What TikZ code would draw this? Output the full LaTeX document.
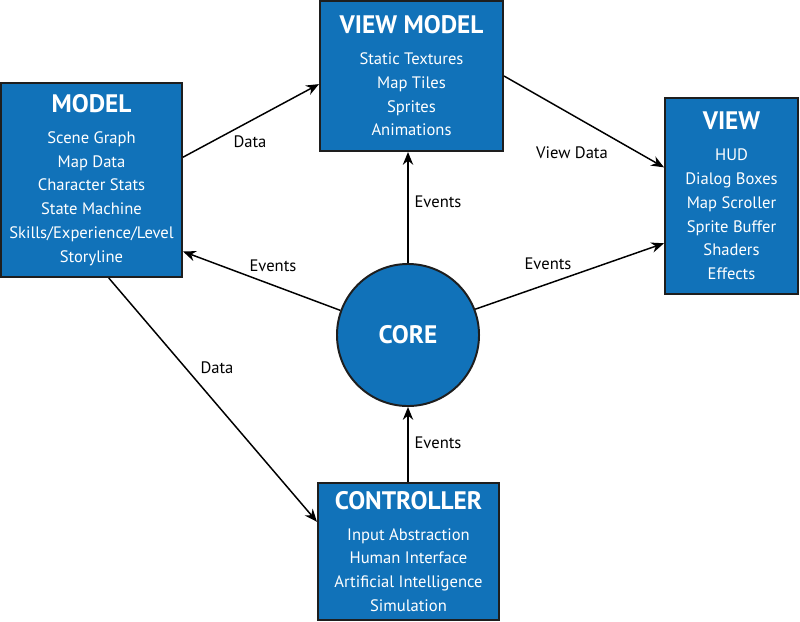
\documentclass[tikz,border=0pt]{standalone}
\usepackage{fontspec}
\setmainfont{PT Sans}
\usetikzlibrary{arrows.meta}

\definecolor{boxblue}{HTML}{1172B9}
\definecolor{edgegray}{HTML}{1E1E1E}

\tikzset{
    block/.style={draw=edgegray, line width=1.4pt, fill=boxblue, text=white,
        align=center, inner sep=0pt, font=\fontsize{11.8}{16.9}\selectfont},
    flow/.style={->, line width=1.05pt, >={Stealth[length=3.2mm, width=2.6mm]}},
    lbl/.style={font=\fontsize{11.8}{13}\selectfont}
}
\newcommand{\blocktitle}[1]{{\fontsize{18}{20}\selectfont\bfseries #1}}

\begin{document}
\begin{tikzpicture}[x=0.025cm, y=-0.025cm]
    \useasboundingbox (0,0) rectangle (800,621);

    % Blocks
    \node[block, minimum width=4.525cm, minimum height=4.85cm] (model) at (91.5,180)
        {\blocktitle{MODEL}\\[5pt] Scene Graph\\ Map Data\\ Character Stats\\ State Machine\\ Skills/Experience/Level\\ Storyline};
    \node[block, minimum width=4.575cm, minimum height=3.75cm] (viewmodel) at (411.5,76)
        {\blocktitle{VIEW MODEL}\\[5pt] Static Textures\\ Map Tiles\\ Sprites\\ Animations};
    \node[block, minimum width=3.325cm, minimum height=4.9cm] (view) at (731.5,196)
        {\blocktitle{VIEW}\\[5pt] HUD\\ Dialog Boxes\\ Map Scroller\\ Sprite Buffer\\ Shaders\\ Effects};
    \node[block, minimum width=4.525cm, minimum height=3.425cm] (controller) at (408.5,551.5)
        {\blocktitle{CONTROLLER}\\[5pt] Input Abstraction\\ Human Interface\\ Artificial Intelligence\\ Simulation};
    \node[block, circle, minimum size=3.55cm] (core) at (408,335) {\blocktitle{CORE}};

    % Connectors
    \draw[flow] (model.14) -- (viewmodel.185);
    \draw[flow] (viewmodel.east) -- (view.157);
    \draw[flow] (core.160) -- (model.322);
    \draw[flow] (core.north) -- (core.north |- viewmodel.south);
    \draw[flow] (core.21) -- (view.215);
    \draw[flow] (model.280) -- (controller.162);
    \draw[flow] (controller.north -| core.south) -- (core.south);

    % labels
    \node[lbl] (l1) at (250,142) {Data};
    \node[lbl] (l2) at (572,153) {View Data};
    \node[lbl] (l3) at (273,266) {Events};
    \node[lbl] (l4) at (438,202) {Events};
    \node[lbl] (l5) at (548,264) {Events};
    \node[lbl] (l6) at (217,368) {Data};
    \node[lbl] (l7) at (438,443) {Events};
\end{tikzpicture}
\end{document}
